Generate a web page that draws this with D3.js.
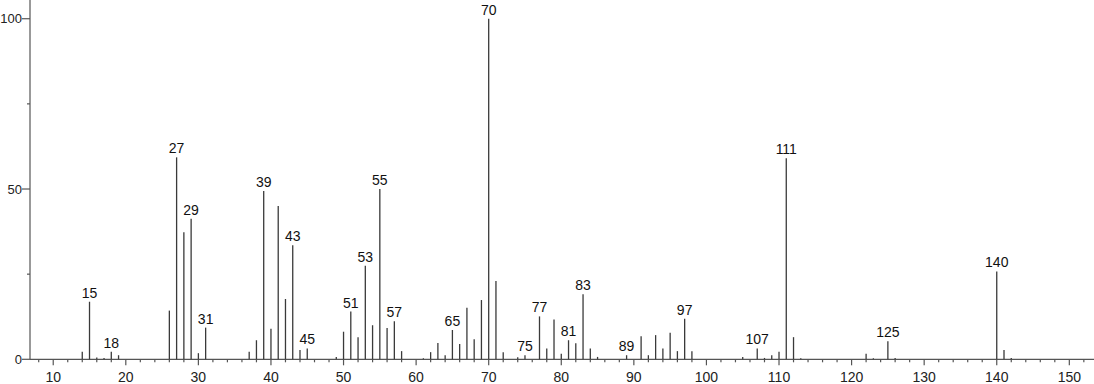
<!DOCTYPE html>
<html><head><meta charset="utf-8">
<script src="https://cdn.jsdelivr.net/npm/d3@7"></script>
<style>html,body{margin:0;padding:0;background:#fff;}svg{display:block;}</style>
</head><body>
<script>
const mz =        [14,15,16,17,18,19,26,27,28,29,30,31,37,38,39,40,41,42,43,44,45,49,50,51,52,53,54,55,56,57,58,61,62,63,64,65,66,67,68,69,70,71,72,74,75,77,78,79,80,81,82,83,84,85,89,91,92,93,94,95,96,97,98,105,107,108,109,110,111,112,113,122,123,125,126,140,141,142];
const intensity = [2.2,16.9,0.5,0.4,2.2,1.2,14.3,59.3,37.3,41.3,1.8,9.3,2.2,5.6,49.4,9.0,45.0,17.7,33.5,2.7,3.2,0.7,8.1,14.0,6.5,27.5,10.0,50.0,9.2,11.2,2.4,0.3,2.1,4.8,1.2,8.6,4.5,15.1,5.9,17.4,100,23.0,2.1,0.6,1.2,12.6,3.2,11.7,1.6,5.6,4.7,19.1,3.2,0.7,1.2,6.8,1.2,7.1,3.2,7.8,2.4,11.9,2.4,0.7,3.2,0.4,1.2,2.2,59.0,6.5,0.3,1.6,0.3,5.3,0.4,25.8,2.7,0.4];
const labeledPeaks = [15,18,27,29,31,39,43,45,51,53,55,57,65,70,75,77,81,83,89,97,107,111,125,140];
const xTickLabels = [10,20,30,40,50,60,70,80,90,100,110,120,130,140,150];
const yTickLabels = [0,50,100];

const W = 1094, H = 384;
const svg = d3.select("body").append("svg").attr("width", W).attr("height", H);
const font = "'Liberation Sans', Arial, sans-serif";
const x = d3.scaleLinear().domain([6.8, 153.4]).range([30, 1094]);
const y = d3.scaleLinear().domain([0, 105.5]).range([359.3, 0]);
const axisColor = "#555";

// y axis
const gy = svg.append("g").attr("transform", "translate(30,0)");
gy.append("line").attr("x1",0).attr("x2",0).attr("y1",0).attr("y2",y(0)).attr("stroke",axisColor).attr("stroke-width",1.2);
[0,25,50,75,100].forEach(v=>{
  const major = yTickLabels.includes(v);
  gy.append("line").attr("x1", major?-8:-3).attr("x2",0).attr("y1",y(v)).attr("y2",y(v)).attr("stroke",axisColor).attr("stroke-width",1.2);
});
yTickLabels.forEach(v=>{
  gy.append("text").attr("x",-8).attr("y",y(v)).attr("dy","0.36em").attr("text-anchor","end")
    .attr("font-family",font).attr("font-size",13).attr("fill","#222").text(v);
});

// x axis
const gx = svg.append("g").attr("transform", `translate(0,${y(0)})`);
gx.append("line").attr("x1",30).attr("x2",W).attr("y1",0).attr("y2",0).attr("stroke",axisColor).attr("stroke-width",1.2);
d3.range(8,154,2).forEach(v=>{
  if (x(v) < 31) return;
  const major = v % 10 === 0;
  gx.append("line").attr("x1",x(v)).attr("x2",x(v)).attr("y1",0).attr("y2",major?6:3).attr("stroke",axisColor).attr("stroke-width",1.2);
});
xTickLabels.forEach(v=>{
  gx.append("text").attr("x",x(v)).attr("y",23).attr("text-anchor","middle")
    .attr("font-family",font).attr("font-size",14).attr("fill","#222").text(v);
});

// peaks
const data = mz.map((m,i)=>({m, v:intensity[i]}));
svg.append("g").selectAll("line").data(data).join("line")
  .attr("x1",d=>x(d.m)).attr("x2",d=>x(d.m)).attr("y1",y(0)).attr("y2",d=>y(d.v))
  .attr("stroke","#3a3a3a").attr("stroke-width",1.3);

svg.append("g").selectAll("text").data(data.filter(d=>labeledPeaks.includes(d.m))).join("text")
  .attr("x",d=>x(d.m)).attr("y",d=>y(d.v)-4).attr("text-anchor","middle")
  .attr("font-family",font).attr("font-size",14).attr("fill","#111").text(d=>d.m);
</script>
</body></html>
